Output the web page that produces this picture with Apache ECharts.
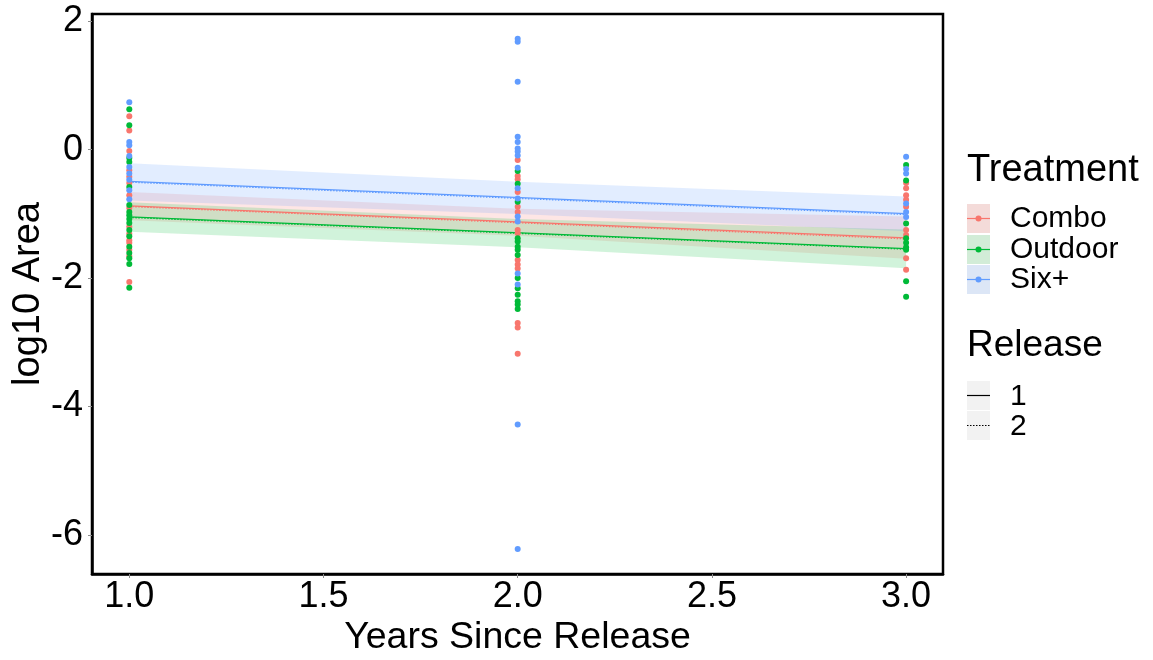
<!DOCTYPE html>
<html>
<head>
<meta charset="utf-8">
<script src="https://cdn.jsdelivr.net/npm/echarts@6/dist/echarts.min.js"></script>
<style>
html,body{margin:0;padding:0;background:#fff;}
#chart{width:1153px;height:660px;}
</style>
</head>
<body>
<div id="chart"></div>
<script>
// ---- data ----
const treatments = ['Combo', 'Outdoor', 'Six+'];
const releases = ['1', '2'];
const colors = { 'Combo': '#F8766D', 'Outdoor': '#00BA38', 'Six+': '#619CFF' };
const xTicks = [1.0, 1.5, 2.0, 2.5, 3.0];
const yTicks = [-6, -4, -2, 0, 2];

// observed points: year 1, 2, 3
const comboY1 = [0.52, 0.30, -0.02, -0.32, -0.42, -0.52, -0.71, -0.91, -1.20, -1.31, -1.41, -1.45, -1.56, -1.66, -2.06];
const comboY2 = [-0.16, -0.41, -0.46, -0.66, -0.89, -0.97, -1.25, -1.30, -1.72, -1.79, -1.85, -2.70, -2.77, -3.18];
const comboY3 = [-0.52, -0.60, -0.71, -0.78, -0.89, -1.25, -1.33, -1.69, -1.87];
const outdoorY1 = [0.63, 0.38, -0.13, -0.19, -0.58, -0.86, -0.97, -1.02, -1.08, -1.14, -1.25, -1.35, -1.51, -1.61, -1.69, -1.78, -2.15];
const outdoorY2 = [-0.33, -0.53, -0.81, -1.38, -1.43, -1.51, -1.56, -1.64, -2.00, -2.16, -2.26, -2.36, -2.41, -2.48];
const outdoorY3 = [-0.24, -0.48, -1.15, -1.38, -1.45, -1.52, -1.56, -2.05, -2.29];
const sixY1 = [0.74, 0.12, 0.07, -0.10, -0.27, -0.37, -0.47, -0.63, -0.77];
const sixY2 = [1.73, 1.68, 1.06, 0.20, 0.12, 0.02, -0.03, -0.09, -0.28, -0.60, -0.76, -1.04, -1.12, -1.93, -2.10, -4.28, -6.22];
const sixY3 = [-0.11, -0.30, -0.37, -0.84, -0.97, -1.05];

// fitted lines (x = 1 and 3) per release
const fitX = [1, 3];
const comboFitR1 = [-0.875, -1.375];
const comboFitR2 = [-0.885, -1.390];
const outdoorFitR1 = [-1.045, -1.540];
const outdoorFitR2 = [-1.055, -1.550];
const sixFitR1 = [-0.495, -0.995];
const sixFitR2 = [-0.505, -1.010];

// confidence ribbons
const ribbonX = [1, 2, 3];
const comboLo = [-1.10, -1.34, -1.70];
const comboHi = [-0.66, -0.92, -1.04];
const outdoorLo = [-1.28, -1.52, -1.845];
const outdoorHi = [-0.82, -1.08, -1.245];
const sixLo = [-0.79, -1.00, -1.27];
const sixHi = [-0.21, -0.50, -0.73];

// ---- build ----
const FONT = "'Liberation Sans', Arial, sans-serif";
const pts = (x, arr) => arr.map(v => [x, v]);
const scatterData = {
  'Combo': [].concat(pts(1, comboY1), pts(2, comboY2), pts(3, comboY3)),
  'Outdoor': [].concat(pts(1, outdoorY1), pts(2, outdoorY2), pts(3, outdoorY3)),
  'Six+': [].concat(pts(1, sixY1), pts(2, sixY2), pts(3, sixY3))
};
const fits = {
  'Combo': [comboFitR1, comboFitR2],
  'Outdoor': [outdoorFitR1, outdoorFitR2],
  'Six+': [sixFitR1, sixFitR2]
};
const ribbons = {
  'Combo': [comboLo, comboHi],
  'Outdoor': [outdoorLo, outdoorHi],
  'Six+': [sixLo, sixHi]
};

function hexA(hex, a) {
  const r = parseInt(hex.slice(1, 3), 16), g = parseInt(hex.slice(3, 5), 16), b = parseInt(hex.slice(5, 7), 16);
  return 'rgba(' + r + ',' + g + ',' + b + ',' + a + ')';
}

const series = [];
treatments.forEach(t => {
  const lo = ribbons[t][0], hi = ribbons[t][1];
  series.push({
    type: 'custom',
    name: t + ' ribbon',
    data: ribbonX.map((x, i) => [x, lo[i], hi[i]]),
    z: 1,
    silent: true,
    renderItem: function (params, api) {
      if (params.dataIndex !== 0) return null;
      const top = ribbonX.map((x, i) => api.coord([x, hi[i]]));
      const bot = ribbonX.map((x, i) => api.coord([x, lo[i]])).reverse();
      return {
        type: 'polygon',
        shape: { points: top.concat(bot) },
        style: { fill: hexA(colors[t], 0.18), stroke: null }
      };
    }
  });
});
treatments.forEach(t => {
  fits[t].forEach((f, ri) => {
    series.push({
      type: 'line',
      name: t + ' R' + releases[ri],
      data: fitX.map((x, i) => [x, f[i]]),
      symbol: 'none',
      z: 2,
      silent: true,
      lineStyle: { color: colors[t], width: 1.3, type: ri === 0 ? 'solid' : [1.5, 1.5] }
    });
  });
});
treatments.forEach(t => {
  series.push({
    type: 'scatter',
    name: t,
    data: scatterData[t],
    symbolSize: 6,
    z: 3,
    itemStyle: { color: colors[t], opacity: 1 }
  });
});

// legend (drawn as graphics)
const KX = 967, KW = 23;
const graphics = [];
graphics.push({ type: 'text', left: KX, top: 152, style: { text: 'Treatment', font: '38px ' + FONT, fill: '#000' } });
const keyFill = { 'Combo': '#f4dbd9', 'Outdoor': '#d2ecd7', 'Six+': '#dce6f6' };
const trows = [204, 235, 265];
treatments.forEach((t, i) => {
  const y = trows[i];
  graphics.push({ type: 'rect', shape: { x: KX, y: y, width: KW, height: 29 }, style: { fill: keyFill[t] } });
  graphics.push({ type: 'line', shape: { x1: KX, y1: y + 14.5, x2: KX + KW, y2: y + 14.5 }, style: { stroke: colors[t], lineWidth: 1.2 } });
  graphics.push({ type: 'circle', shape: { cx: KX + KW / 2, cy: y + 14.5, r: 3 }, style: { fill: colors[t] } });
  graphics.push({ type: 'text', x: 1010, y: y + 15, style: { text: t, font: '30px ' + FONT, fill: '#000', verticalAlign: 'middle' } });
});
graphics.push({ type: 'text', left: KX, top: 327, style: { text: 'Release', font: '37px ' + FONT, fill: '#000' } });
const rrows = [381, 411];
releases.forEach((r, i) => {
  const y = rrows[i];
  graphics.push({ type: 'rect', shape: { x: KX, y: y, width: KW, height: 29 }, style: { fill: '#f2f2f2' } });
  graphics.push({ type: 'line', shape: { x1: KX, y1: y + 14.5, x2: KX + KW, y2: y + 14.5 }, style: { stroke: '#000', lineWidth: 1.2, lineDash: i === 0 ? null : [1.5, 1.5] } });
  graphics.push({ type: 'text', x: 1010, y: y + 16, style: { text: r, font: '30px ' + FONT, fill: '#000', verticalAlign: 'middle' } });
});

const chart = echarts.init(document.getElementById('chart'), null, { renderer: 'canvas' });
chart.setOption({
  backgroundColor: '#ffffff',
  animation: false,
  textStyle: { fontFamily: FONT },
  grid: {
    left: 92, top: 14, right: 210, bottom: 86,
    show: true, borderColor: '#000', borderWidth: 2.5, backgroundColor: 'transparent',
    outerBoundsMode: 'none', containLabel: false
  },
  xAxis: {
    type: 'value', min: 0.904, max: 3.095,
    name: 'Years Since Release', nameLocation: 'middle', nameGap: 45, nameMoveOverlap: false,
    nameTextStyle: { fontSize: 37.5, color: '#000', fontFamily: FONT },
    axisLine: { show: true, onZero: false, lineStyle: { color: '#000', width: 2.5 } },
    axisTick: { show: true, length: 4, customValues: xTicks, lineStyle: { color: '#8c8c8c', width: 1 } },
    axisLabel: { customValues: xTicks, formatter: v => Number(v).toFixed(1), fontSize: 36, color: '#000', margin: 5, fontFamily: FONT },
    splitLine: { show: false }
  },
  yAxis: {
    type: 'value', min: -6.61, max: 2.114,
    name: 'log10 Area', nameLocation: 'middle', nameGap: 44, nameRotate: 90, nameMoveOverlap: false,
    nameTextStyle: { fontSize: 38, color: '#000', fontFamily: FONT },
    axisLine: { show: true, onZero: false, lineStyle: { color: '#000', width: 2.5 } },
    axisTick: { show: true, length: 4, customValues: yTicks, lineStyle: { color: '#8c8c8c', width: 1 } },
    axisLabel: { customValues: yTicks, formatter: v => String(v), fontSize: 36, color: '#000', margin: 9, fontFamily: FONT },
    splitLine: { show: false }
  },
  series: series,
  graphic: graphics
});
</script>
</body>
</html>
